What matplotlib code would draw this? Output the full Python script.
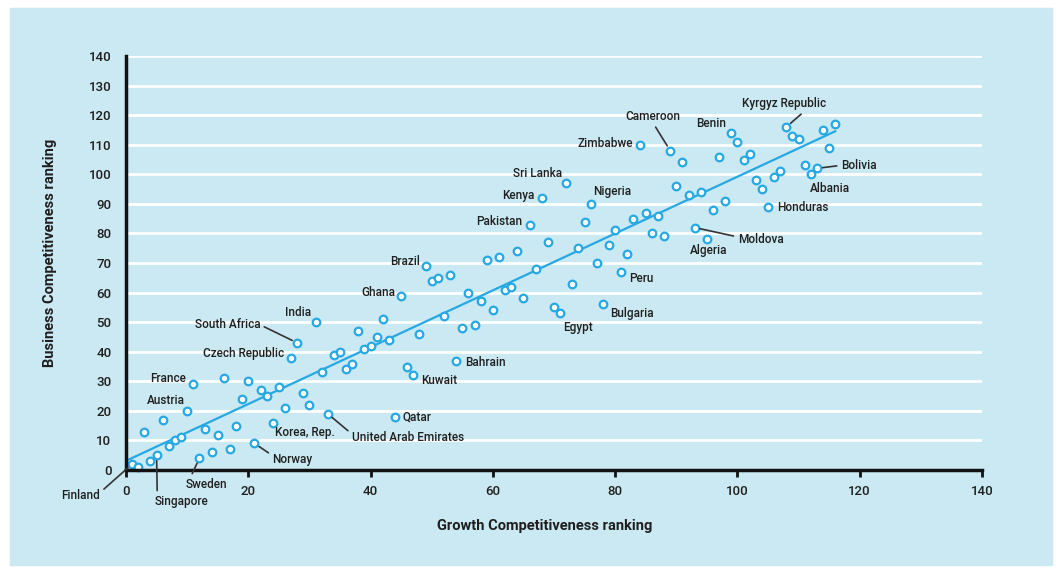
import numpy as np
import matplotlib.pyplot as plt
from matplotlib.patches import Rectangle

# growth competitiveness rank (x) and business competitiveness rank (y)
growth = [1, 2, 3, 4, 5, 6, 7, 8, 9, 10, 11, 12, 13, 14, 15, 16, 17, 18, 19, 20,
          21, 22, 23, 24, 25, 26, 27, 28, 29, 30, 31, 32, 33, 34, 35, 36, 37, 38, 39, 40,
          41, 42, 43, 44, 45, 46, 47, 48, 49, 50, 51, 52, 53, 54, 55, 56, 57, 58, 59, 60,
          61, 62, 63, 64, 65, 66, 67, 68, 69, 70, 71, 72, 73, 74, 75, 76, 77, 78, 79, 80,
          81, 82, 83, 84, 85, 86, 87, 88, 89, 90, 91, 92, 93, 94, 95, 96, 97, 98, 99, 100,
          101, 102, 103, 104, 105, 106, 107, 108, 109, 110, 111, 112, 113, 114, 115, 116]
business = [2, 1, 13, 3, 5, 17, 8, 10, 11, 20, 29, 4, 14, 6, 12, 31, 7, 15, 24, 30,
            9, 27, 25, 16, 28, 21, 38, 43, 26, 22, 50, 33, 19, 39, 40, 34, 36, 47, 41, 42,
            45, 51, 44, 18, 59, 35, 32, 46, 69, 64, 65, 52, 66, 37, 48, 60, 49, 57, 71, 54,
            72, 61, 62, 74, 58, 83, 68, 92, 77, 55, 53, 97, 63, 75, 84, 90, 70, 56, 76, 81,
            67, 73, 85, 110, 87, 80, 86, 79, 108, 96, 104, 93, 82, 94, 78, 88, 106, 91, 114, 111,
            105, 107, 98, 95, 89, 99, 101, 116, 113, 112, 103, 100, 102, 115, 109, 117]

country_rank = {
    "Finland": 1, "Singapore": 5, "Sweden": 12, "Norway": 21, "Korea, Rep.": 24,
    "United Arab Emirates": 33, "Qatar": 44, "Kuwait": 47, "Bahrain": 54,
    "Ghana": 45, "Brazil": 49, "India": 31, "South Africa": 28,
    "Czech Republic": 27, "France": 11, "Austria": 10, "Egypt": 71,
    "Bulgaria": 78, "Peru": 81, "Pakistan": 66, "Kenya": 68, "Sri Lanka": 72,
    "Nigeria": 76, "Zimbabwe": 84, "Cameroon": 89, "Benin": 99,
    "Kyrgyz Republic": 108, "Bolivia": 113, "Albania": 112, "Honduras": 105,
    "Moldova": 93, "Algeria": 95,
}

# label placement: offset in pixels, alignment, leader line start (relpos) or None
placement = {
    "Finland": (-32, -31, "right", (1, 0.7)),
    "Singapore": (-2, -46, "left", (0.05, 1)),
    "Sweden": (-14, -26, "left", (0.12, 1)),
    "Norway": (18, -16, "left", (0, 0.8)),
    "Korea, Rep.": (2, -10, "left", None),
    "United Arab Emirates": (24, -24, "left", (0, 0.8)),
    "Qatar": (7, 0, "left", None),
    "Kuwait": (8, -5, "left", None),
    "Bahrain": (9, -2, "left", None),
    "Ghana": (-6, 3, "right", None),
    "Brazil": (-6, 4, "right", None),
    "India": (-4, 10, "right", None),
    "South Africa": (-37, 18, "right", (1, 0.5)),
    "Czech Republic": (-7, 4, "right", None),
    "France": (-7, 6, "right", None),
    "Austria": (-2, 10, "right", None),
    "Egypt": (3, -14, "left", None),
    "Bulgaria": (7, -9, "left", None),
    "Peru": (8, -7, "left", None),
    "Pakistan": (-7, 3, "right", None),
    "Kenya": (-7, 2, "right", None),
    "Sri Lanka": (-4, 10, "right", None),
    "Nigeria": (2, 12, "left", None),
    "Zimbabwe": (-7, 1, "right", None),
    "Cameroon": (-17, 34, "center", (0.5, 0)),
    "Benin": (-5, 9, "right", None),
    "Kyrgyz Republic": (-2, 23, "center", (0.75, 0)),
    "Bolivia": (24, 3, "left", (0, 0.5)),
    "Albania": (-1, -14, "left", None),
    "Honduras": (9, -1, "left", None),
    "Moldova": (43, -12, "left", (0, 0.7)),
    "Algeria": (2, -11, "center", None),
}

x_ticks = [0, 20, 40, 60, 80, 100, 120, 140]
y_ticks = [0, 10, 20, 30, 40, 50, 60, 70, 80, 90, 100, 110, 120, 130, 140]

panel = "#cbe9f2"
blue = "#26a8e3"
ink = "#1f1f1f"
plt.rcParams["font.family"] = ["Roboto", "DejaVu Sans"]

fig = plt.figure(figsize=(10.63, 5.70), dpi=100, facecolor="white")
bg = Rectangle((10 / 1063, 5 / 570), 1042 / 1063, 557 / 570,
               transform=fig.transFigure, color=panel, zorder=-10)
fig.add_artist(bg)
ax = fig.add_axes([126 / 1063, 100 / 570, 856 / 1063, 414 / 570])
ax.patch.set_visible(False)

ax.set_xlim(0, 140)
ax.set_ylim(0, 140)
for yv in y_ticks[1:]:
    ax.axhline(yv, color="white", lw=2, zorder=1)

for s in ["top", "right"]:
    ax.spines[s].set_visible(False)
for s in ["left", "bottom"]:
    ax.spines[s].set_linewidth(2.5)
    ax.spines[s].set_color("#111111")
    ax.spines[s].set_zorder(5)

ax.set_xticks(x_ticks)
ax.set_yticks(y_ticks)
ax.tick_params(axis="x", length=5, width=2, color="#111111", labelsize=9.5,
               labelcolor=ink, pad=6)
ax.tick_params(axis="y", length=0, labelsize=9.5, labelcolor=ink, pad=10.5)
for t in ax.get_xticklabels() + ax.get_yticklabels():
    t.set_fontweight("medium")

# regression line
slope, icpt = np.polyfit(growth, business, 1)
xs = np.array([0.5, growth[-1]])
ax.plot(xs, icpt + slope * xs, color=blue, lw=1.6, zorder=3)

ax.scatter(growth, business, s=30, facecolor="white", edgecolor=blue,
           linewidth=1.6, zorder=4, clip_on=False)

for name, rank in country_rank.items():
    px = rank
    py = business[growth.index(rank)]
    dx, dy, ha, rel = placement[name]
    kw = {}
    if rel is not None:
        kw["arrowprops"] = dict(arrowstyle="-", color="#333333", lw=1.2,
                                shrinkA=1, shrinkB=4, relpos=rel)
    ax.annotate(name, (px, py), xytext=(dx, dy), textcoords="offset pixels",
                ha=ha, va="center", fontsize=8.5, fontweight="medium",
                color=ink, annotation_clip=False, zorder=6, **kw)

ax.set_xlabel("Growth Competitiveness ranking", fontsize=10.5, fontweight="bold",
              color=ink)
ax.set_ylabel("Business Competitiveness ranking", fontsize=10.5, fontweight="bold",
              color=ink)
ax.xaxis.set_label_coords(0.4895, -0.118)
ax.yaxis.set_label_coords(-0.081, 0.524)

fig.savefig("out.png", dpi=100, facecolor="white")
